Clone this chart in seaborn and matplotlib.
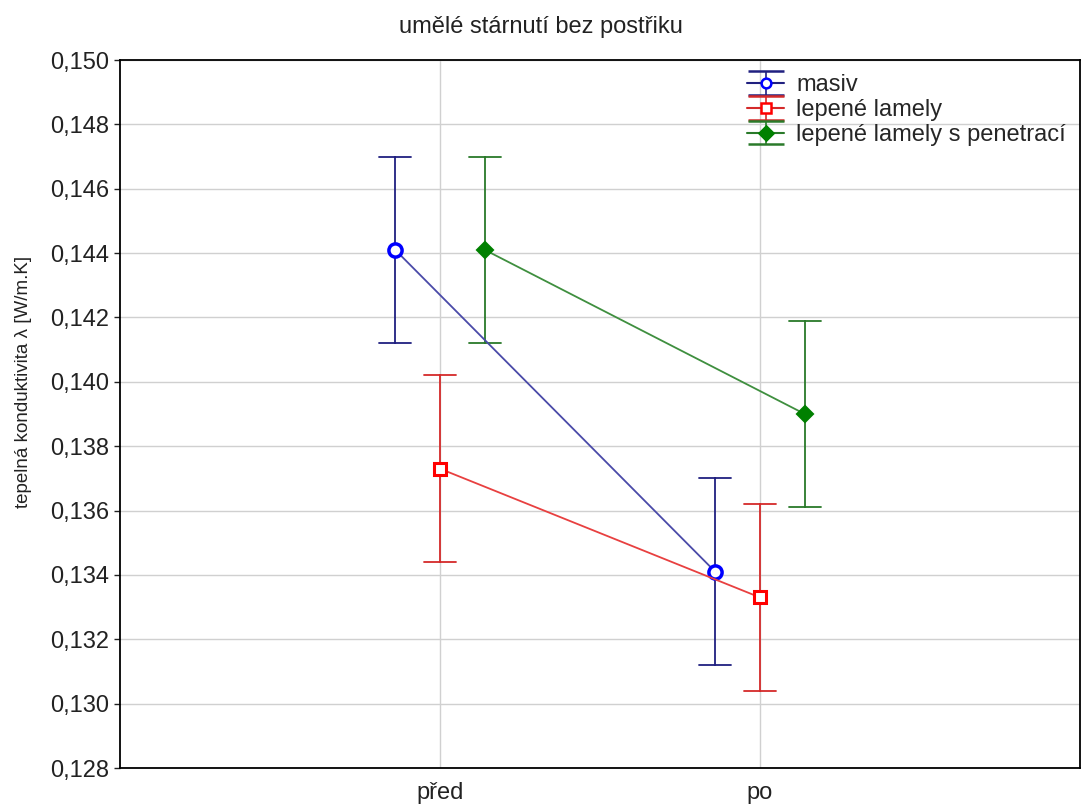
import numpy as np
import pandas as pd
import matplotlib
matplotlib.use("Agg")
import matplotlib.pyplot as plt
import seaborn as sns

# hodnoty (průměr a polovina intervalu)
stav = ["před", "po"]
vzorky = ["masiv", "lepené lamely", "lepené lamely s penetrací"]
masiv = [0.1441, 0.1341]
lamely = [0.1373, 0.1333]
penetrace = [0.1441, 0.1390]
masiv_err = [0.0029, 0.0029]
lamely_err = [0.0029, 0.0029]
penetrace_err = [0.0029, 0.0029]

# barvy a značky
err_colors = ["#202080", "#d42a2a", "#2a7a2a"]
line_colors = ["#4a4aa8", "#e84040", "#3f8f3f"]
mark_colors = ["#0000ff", "#ff0000", "#008000"]
markers = ["o", "s", "D"]

# tabulka: dolní mez, průměr, horní mez -> mean + rozsah (pi 100)
rows = []
for name, means, errs in zip(vzorky, [masiv, lamely, penetrace],
                             [masiv_err, lamely_err, penetrace_err]):
    for s, m, e in zip(stav, means, errs):
        for v in (m - e, m, m + e):
            rows.append({"stav": s, "vzorek": name, "lam": v})
df = pd.DataFrame(rows)

sns.set_style("white")
plt.rcParams["font.family"] = ["Liberation Sans", "DejaVu Sans"]

fig = plt.figure(figsize=(10.81, 8.07), dpi=100)
ax = fig.add_axes([120 / 1081, 39 / 807, 960 / 1081, 708 / 807])

sns.pointplot(data=df, x="stav", y="lam", hue="vzorek", order=stav,
              hue_order=vzorky, estimator="mean", errorbar=("pi", 100),
              dodge=0.28, markers=markers, linestyles="-",
              palette=dict(zip(vzorky, err_colors)), capsize=0.1,
              err_kws={"linewidth": 1.3}, linewidth=1.3, ax=ax, legend=False)

# úprava čar a značek podle hue
idx = -1
for ln in ax.lines:
    if ln.get_marker() not in (None, "None", "", " "):
        idx += 1
        ln.set_color(line_colors[idx])
        ln.set_markeredgecolor(mark_colors[idx])
        ln.set_zorder(5)
        if idx == 2:
            ln.set_markerfacecolor(mark_colors[idx])
            ln.set_markersize(8)
            ln.set_markeredgewidth(1.5)
        elif idx == 1:
            ln.set_markerfacecolor("white")
            ln.set_markersize(8)
            ln.set_markeredgewidth(2.2)
        else:
            ln.set_markerfacecolor("white")
            ln.set_markersize(9.5)
            ln.set_markeredgewidth(2.5)

ax.set_xlim(-1, 2)
ax.set_ylim(0.128, 0.150)
ax.set_yticks(np.arange(0.128, 0.1501, 0.002))
ax.set_yticklabels([f"{v:.3f}".replace(".", ",") for v in np.arange(0.128, 0.1501, 0.002)])
ax.grid(True, color="#d0d0d0", linewidth=1.0)
ax.set_axisbelow(True)
for sp in ax.spines.values():
    sp.set_color("black")
    sp.set_linewidth(1.3)
ax.tick_params(axis="y", length=4, width=1, labelsize=17, colors="#222222", left=True)
ax.tick_params(axis="x", length=0, labelsize=17, colors="#222222", pad=10)
ax.set_xlabel("")
ax.set_ylabel("tepelná konduktivita λ [W/m.K]", fontsize=13.5, color="#222222")
ax.yaxis.set_label_coords(-0.092, 0.545)

fig.text(0.5, 1 - 27 / 807, "umělé stárnutí bez postřiku", ha="center", va="center",
         fontsize=17, color="#222222")

# legenda se symbolem chybové úsečky
handles = []
for c_err, c_mark, mk, name in zip(err_colors, mark_colors, markers, vzorky):
    fc = c_mark if mk == "D" else "white"
    h = ax.errorbar([np.nan], [np.nan], yerr=[np.nan], fmt=mk + "-", color=c_err,
                    mec=c_mark, mfc=fc, ms=7, mew=1.8, capsize=13, elinewidth=1.2,
                    label=name)
    handles.append(h)
ax.legend(handles=handles, loc="upper right", bbox_to_anchor=(1.0, 1.0),
          frameon=False, fontsize=17, handlelength=1.6, handletextpad=0.5,
          labelspacing=0.12, borderaxespad=0.2)

fig.savefig("out.png", dpi=100)
